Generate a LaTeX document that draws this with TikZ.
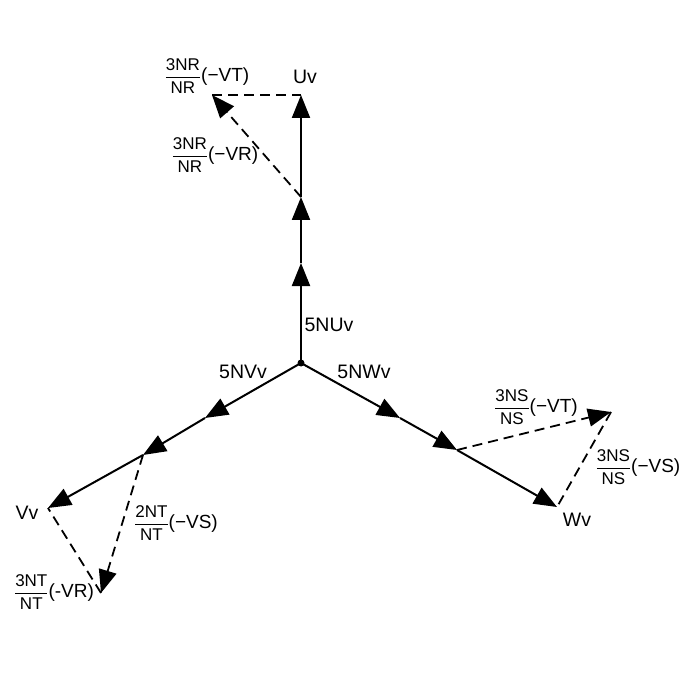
\documentclass[tikz,border=0pt]{standalone}
\usepackage{amsmath}
\usepackage{fontspec}
\setmainfont{Liberation Sans}
\usetikzlibrary{arrows.meta}
\newcommand{\lfr}[3]{{\fontsize{17}{19}\selectfont$\genfrac{}{}{1pt}{0}{\mbox{\fontsize{17}{19}\selectfont #1}}{\mbox{\fontsize{17}{19}\selectfont #2}}$}{\fontsize{19}{21}\selectfont #3}}
\tikzset{
  vec/.style={line width=2pt, -{Triangle[length=23pt,width=18pt]}},
  dvec/.style={line width=1.8pt, dash pattern=on 10pt off 6pt, -{Triangle[length=23pt,width=18pt]}},
  dline/.style={line width=1.8pt, dash pattern=on 10pt off 6pt},
  lbl/.style={font=\fontsize{19.5}{21}\selectfont, inner sep=0pt},
  flbl/.style={inner sep=0pt},
}
\begin{document}
\begin{tikzpicture}[x=1pt,y=-1pt]
\useasboundingbox (0,0) rectangle (692,692);
% points
\coordinate (O) at (301,363);
\coordinate (u1) at (301,263);
\coordinate (u2) at (301,197);
\coordinate (Ut) at (301,95);
\coordinate (R) at (212,95);
\coordinate (v1) at (205,418);
\coordinate (v2) at (143,455);
\coordinate (Vt) at (48,508);
\coordinate (T) at (101,593);
\coordinate (w1) at (400,418);
\coordinate (w2) at (457,450);
\coordinate (Wt) at (557,507);
\coordinate (S) at (611,412);
% solid vectors
\draw[vec] (O) -- (u1);
\draw[vec] (u1) -- (u2);
\draw[vec] (u2) -- (Ut);
\draw[vec] (O) -- (v1);
\draw[vec] (v1) -- (v2);
\draw[vec] (v2) -- (Vt);
\draw[vec] (O) -- (w1);
\draw[vec] (w1) -- (w2);
\draw[vec] (w2) -- (Wt);
\fill (O) circle (3.5pt);
% dashed
\draw[dvec] (u2) -- (R);
\draw[dline] (R) -- (Ut);
\draw[dvec] (v2) -- (T);
\draw[dline] (T) -- (Vt);
\draw[dvec] (w2) -- (S);
\draw[dline] (S) -- (Wt);
% labels
\node[lbl] (lU) at (305,77) {Uv};
\node[lbl] (lV) at (27,513) {Vv};
\node[lbl] (lW) at (577,520) {Wv};
\node[lbl] (l5U) at (329,325) {5NUv};
\node[lbl] (l5V) at (243,372) {5NVv};
\node[lbl] (l5W) at (364,372) {5NWv};
\node[flbl] (fR1) at (207,76) {\lfr{3NR}{NR}{(−VT)}};
\node[flbl] (fR2) at (215,155) {\lfr{3NR}{NR}{(−VR)}};
\node[flbl] (fT1) at (176,523) {\lfr{2NT}{NT}{(−VS)}};
\node[flbl] (fT2) at (54,592) {\lfr{3NT}{NT}{(-VR)}};
\node[flbl] (fS1) at (536,407) {\lfr{3NS}{NS}{(−VT)}};
\node[flbl] (fS2) at (638,467) {\lfr{3NS}{NS}{(−VS)}};
\end{tikzpicture}
\end{document}
